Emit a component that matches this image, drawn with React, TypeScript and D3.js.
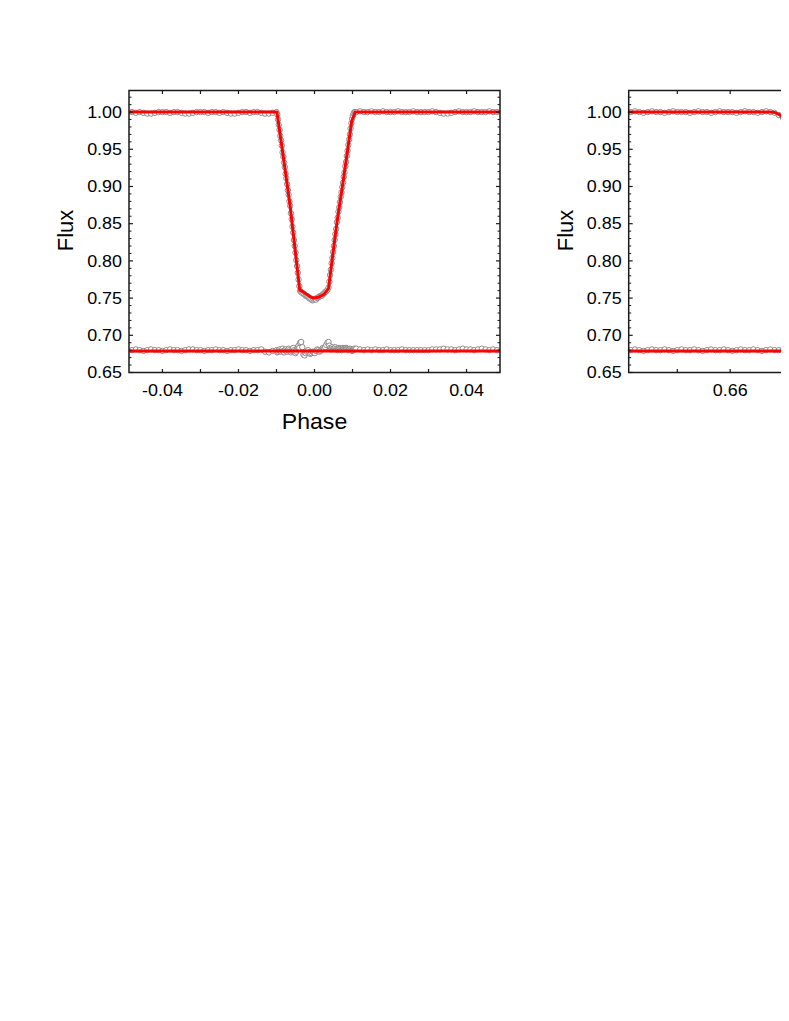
import React from "react";
import * as d3 from "d3";

// ---------- axis ticks ----------
const yTickValues = [0.65, 0.7, 0.75, 0.8, 0.85, 0.9, 0.95, 1.0];
const yTickLabels = ["0.65", "0.70", "0.75", "0.80", "0.85", "0.90", "0.95", "1.00"];
const yMinorTicks = [0.66,0.67,0.68,0.69,0.71,0.72,0.73,0.74,0.76,0.77,0.78,0.79,0.81,0.82,0.83,0.84,0.86,0.87,0.88,0.89,0.91,0.92,0.93,0.94,0.96,0.97,0.98,0.99,1.01,1.02];

const leftXTicks = [-0.04, -0.02, 0, 0.02, 0.04];
const leftXLabels = ["-0.04", "-0.02", "0.00", "0.02", "0.04"];
const leftXMinor = [-0.03, -0.01, 0.01, 0.03];

const rightXTicks = [0.66, 0.67, 0.68];
const rightXLabels = ["0.66", "0.67", "0.68"];
const rightXMinor = [0.655, 0.665, 0.675, 0.685];

// ---------- primary eclipse (left panel) ----------
const obsPhaseL = [
  -0.048,-0.047,-0.046,-0.045,-0.044,-0.043,-0.042,-0.041,-0.040,-0.039,-0.038,-0.037,-0.036,-0.035,-0.034,-0.033,-0.032,-0.031,-0.030,-0.029,-0.028,-0.027,-0.026,-0.025,-0.024,-0.023,-0.022,-0.021,-0.020,-0.019,-0.018,-0.017,-0.016,-0.015,-0.014,-0.013,-0.012,-0.011,-0.010,
  -0.0098,-0.0096,-0.0094,-0.0092,-0.0090,-0.0088,-0.0086,-0.0084,-0.0082,-0.0080,-0.0078,-0.0076,-0.0074,-0.0072,-0.0070,-0.0068,-0.0066,-0.0064,-0.0062,-0.0060,-0.0058,-0.0056,-0.0054,-0.0052,-0.0050,-0.0048,-0.0046,-0.0044,-0.0042,-0.0040,-0.0038,
  -0.0035,-0.0032,-0.0029,-0.0026,-0.0023,-0.0020,-0.0017,-0.0014,-0.0011,-0.0008,-0.0005,-0.0002,0.0001,0.0004,0.0007,0.0010,0.0013,0.0016,0.0019,0.0022,0.0025,0.0028,0.0031,0.0034,
  0.0037,0.0039,0.0041,0.0043,0.0045,0.0047,0.0049,0.0051,0.0053,0.0055,0.0057,0.0059,0.0061,0.0063,0.0065,0.0067,0.0069,0.0071,0.0073,0.0075,0.0077,0.0079,0.0081,0.0083,0.0085,0.0087,0.0089,0.0091,0.0093,0.0095,0.0097,0.0099,0.0101,0.0103,0.0105,0.0107,
  0.011,0.012,0.013,0.014,0.015,0.016,0.017,0.018,0.019,0.020,0.021,0.022,0.023,0.024,0.025,0.026,0.027,0.028,0.029,0.030,0.031,0.032,0.033,0.034,0.035,0.036,0.037,0.038,0.039,0.040,0.041,0.042,0.043,0.044,0.045,0.046,0.047,0.048,
];
const obsFluxL = [
  1.000,0.999,1.000,0.999,0.998,0.998,0.999,1.000,1.000,1.000,0.999,1.000,1.000,0.999,0.998,0.998,0.999,1.000,1.000,1.000,0.999,1.000,1.000,0.999,1.000,0.999,0.998,0.998,0.999,1.000,1.000,0.999,1.000,1.000,0.999,0.998,0.998,0.999,1.000,
  0.997,0.990,0.983,0.976,0.968,0.962,0.955,0.946,0.940,0.932,0.926,0.917,0.911,0.903,0.895,0.889,0.880,0.874,0.864,0.856,0.846,0.838,0.828,0.820,0.811,0.801,0.793,0.784,0.775,0.766,0.760,
  0.758,0.757,0.756,0.755,0.753,0.753,0.752,0.750,0.749,0.748,0.747,0.748,0.749,0.748,0.750,0.751,0.752,0.753,0.753,0.755,0.756,0.758,0.759,0.761,
  0.764,0.772,0.781,0.788,0.797,0.804,0.812,0.820,0.828,0.836,0.843,0.852,0.858,0.866,0.872,0.879,0.886,0.892,0.899,0.905,0.913,0.919,0.927,0.933,0.941,0.948,0.956,0.963,0.970,0.978,0.985,0.991,0.995,0.998,1.000,1.000,
  1.000,1.001,1.000,1.000,1.001,1.000,1.000,1.001,1.000,1.000,1.000,1.001,1.000,1.000,1.000,1.001,1.000,1.000,1.000,1.000,1.001,1.000,0.999,0.998,0.998,0.999,1.000,1.001,1.000,1.000,1.000,1.001,1.000,1.000,1.000,1.001,1.000,1.000,
];
const resFluxL = [
  0.680,0.681,0.680,0.679,0.680,0.681,0.680,0.680,0.679,0.680,0.681,0.680,0.680,0.679,0.680,0.681,0.681,0.680,0.680,0.679,0.680,0.680,0.681,0.680,0.680,0.679,0.680,0.680,0.681,0.680,0.680,0.679,0.680,0.680,0.681,0.678,0.677,0.679,0.680,
  0.677,0.678,0.680,0.681,0.679,0.678,0.680,0.682,0.679,0.677,0.680,0.681,0.679,0.678,0.680,0.682,0.680,0.678,0.677,0.679,0.681,0.683,0.680,0.678,0.676,0.678,0.681,0.684,0.686,0.683,0.690,
  0.691,0.684,0.674,0.673,0.676,0.678,0.680,0.677,0.675,0.676,0.678,0.677,0.676,0.679,0.681,0.680,0.678,0.679,0.681,0.683,0.682,0.684,0.687,0.690,
  0.691,0.686,0.683,0.681,0.683,0.684,0.682,0.681,0.683,0.684,0.682,0.681,0.680,0.682,0.683,0.682,0.681,0.680,0.682,0.683,0.682,0.681,0.682,0.683,0.682,0.681,0.680,0.681,0.682,0.681,0.680,0.679,0.680,0.681,0.682,0.681,
  0.682,0.681,0.680,0.681,0.680,0.681,0.680,0.680,0.681,0.680,0.680,0.680,0.681,0.680,0.680,0.680,0.680,0.680,0.680,0.680,0.681,0.681,0.681,0.682,0.681,0.681,0.680,0.681,0.682,0.681,0.681,0.680,0.681,0.682,0.681,0.680,0.681,0.680,
];
const modelPhaseL = [-0.0488,-0.0099,-0.0086,-0.0075,-0.0064,-0.0051,-0.0039,-0.0029,-0.0015,-0.0003,0.0010,0.0025,0.0037,0.0046,0.0060,0.0076,0.0088,0.0098,0.0107,0.0488];
const modelFluxL = [1.000,1.000,0.954,0.914,0.873,0.815,0.761,0.758,0.753,0.750,0.751,0.755,0.763,0.800,0.855,0.909,0.952,0.988,1.000,1.000];
const resModelPhaseL = [-0.0488, 0.0488];
const resModelFluxL = [0.679, 0.679];

// ---------- secondary eclipse (right panel, cut off by page) ----------
const obsPhaseR = [0.6506,0.6510,0.6514,0.6518,0.6522,0.6526,0.6530,0.6534,0.6538,0.6542,0.6546,0.6550,0.6554,0.6558,0.6562,0.6566,0.6570,0.6574,0.6578,0.6582,0.6586,0.6590,0.6594,0.6598,0.6602,0.6606,0.6610,0.6614,0.6618,0.6622,0.6626,0.6630,0.6634,0.6638,0.6642,0.6646,0.6650,0.6654,0.6658];
const obsFluxR = [1.000,1.001,1.000,0.999,1.000,1.001,1.000,1.000,0.999,1.000,1.001,1.000,1.000,1.000,0.999,1.000,1.001,1.000,1.000,0.999,1.000,1.001,1.000,1.000,1.000,0.999,1.000,1.001,1.000,1.000,0.999,1.000,1.001,1.000,0.999,0.996,0.992,0.987,0.981];
const resFluxR = [0.680,0.681,0.680,0.679,0.680,0.681,0.680,0.680,0.681,0.680,0.679,0.680,0.681,0.680,0.680,0.681,0.680,0.679,0.680,0.681,0.680,0.680,0.681,0.680,0.679,0.680,0.681,0.680,0.680,0.681,0.680,0.679,0.680,0.681,0.680,0.680,0.681,0.680,0.679];
const modelPhaseR = [0.6504,0.6638,0.6642,0.6646,0.6650,0.6654,0.6658,0.6662];
const modelFluxR = [1.000,1.000,0.9995,0.997,0.993,0.988,0.982,0.976];
const resModelPhaseR = [0.6504, 0.6855];
const resModelFluxR = [0.679, 0.679];

const FONT = "'Liberation Sans', Arial, Helvetica, sans-serif";

type PanelProps = {
  left: number;
  xDomain: [number, number];
  obsPhase: number[];
  obsFlux: number[];
  resFlux: number[];
  modelPhase: number[];
  modelFlux: number[];
  resModelPhase: number[];
  resModelFlux: number[];
  xTicks: number[];
  xLabels: string[];
  xMinor: number[];
};

function Panel(p: PanelProps) {
  const W = 371;
  const top = 82.5;
  const bottom = 364.5;
  const x = d3.scaleLinear().domain(p.xDomain).range([p.left, p.left + W]);
  const y = d3.scaleLinear().domain([0.65, 1.029]).range([bottom, top]);
  const line = d3
    .line<[number, number]>()
    .x((d) => x(d[0]))
    .y((d) => y(d[1]));
  const obs = p.obsPhase.map((ph, i) => [ph, p.obsFlux[i]] as [number, number]);
  const res = p.obsPhase.map((ph, i) => [ph, p.resFlux[i]] as [number, number]);
  const model = p.modelPhase.map((ph, i) => [ph, p.modelFlux[i]] as [number, number]);
  const resModel = p.resModelPhase.map((ph, i) => [ph, p.resModelFlux[i]] as [number, number]);
  const x0 = p.left;
  const x1 = p.left + W;
  const axisColor = "#1a1a1a";
  const xAll = [...p.xTicks, ...p.xMinor];
  return (
    <g>
      {/* data circles */}
      {obs.map((d, i) => (
        <circle key={"o" + i} cx={x(d[0])} cy={y(d[1])} r={2.7} fill="#fff" stroke="#808080" strokeWidth={0.9} />
      ))}
      {res.map((d, i) => (
        <circle key={"r" + i} cx={x(d[0])} cy={y(d[1])} r={2.7} fill="#fff" stroke="#808080" strokeWidth={0.9} />
      ))}
      <path d={line(model) || ""} fill="none" stroke="#ff0000" strokeWidth={3} strokeLinejoin="round" />
      <path d={line(resModel) || ""} fill="none" stroke="#ff0000" strokeWidth={3} />
      {/* frame */}
      <rect x={x0} y={top} width={W} height={bottom - top} fill="none" stroke={axisColor} strokeWidth={1.5} />
      {/* y ticks */}
      {yTickValues.map((v) => (
        <g key={"yt" + v}>
          <line x1={x0} x2={x0 + 4} y1={y(v)} y2={y(v)} stroke={axisColor} strokeWidth={1.2} />
          <line x1={x1} x2={x1 - 4} y1={y(v)} y2={y(v)} stroke={axisColor} strokeWidth={1.2} />
        </g>
      ))}
      {yMinorTicks.map((v) => (
        <g key={"ym" + v}>
          <line x1={x0} x2={x0 + 2.5} y1={y(v)} y2={y(v)} stroke={axisColor} strokeWidth={1} />
          <line x1={x1} x2={x1 - 2.5} y1={y(v)} y2={y(v)} stroke={axisColor} strokeWidth={1} />
        </g>
      ))}
      {/* x ticks */}
      {xAll
        .filter((v) => x(v) > x0 + 1 && x(v) < x1 - 1)
        .map((v) => (
          <g key={"xt" + v}>
            <line x1={x(v)} x2={x(v)} y1={bottom} y2={bottom - 3.5} stroke={axisColor} strokeWidth={1.2} />
            <line x1={x(v)} x2={x(v)} y1={top} y2={top + 3.5} stroke={axisColor} strokeWidth={1.2} />
          </g>
        ))}
      {/* tick labels */}
      {yTickValues.map((v, i) => (
        <text
          key={"yl" + v}
          transform={`translate(${x0 - 7},${y(v) + 5.7}) scale(1.12,1)`}
          textAnchor="end"
          fontFamily={FONT}
          fontSize={16}
          fill="#000"
        >
          {yTickLabels[i]}
        </text>
      ))}
      {p.xTicks.map((v, i) => (
        <text
          key={"xl" + v}
          transform={`translate(${x(v)},${bottom + 23}) scale(1.12,1)`}
          textAnchor="middle"
          fontFamily={FONT}
          fontSize={16}
          fill="#000"
        >
          {p.xLabels[i]}
        </text>
      ))}
      {/* axis titles */}
      <text
        transform={`translate(${(x0 + x1) / 2},${bottom + 56.5}) scale(1.05,1)`}
        textAnchor="middle"
        fontFamily={FONT}
        fontSize={22}
        fill="#000"
      >
        Phase
      </text>
      <text
        transform={`translate(${x0 - 56},${(top + bottom) / 2 - 1}) rotate(-90)`}
        textAnchor="middle"
        fontFamily={FONT}
        fontSize={22}
        fill="#000"
      >
        Flux
      </text>
    </g>
  );
}

export default function App() {
  return (
    <svg width={781} height={440} style={{ display: "block" }}>
      <rect x={0} y={0} width={781} height={440} fill="#fff" />
      <Panel
        left={121}
        xDomain={[-0.0488, 0.0488]}
        obsPhase={obsPhaseL}
        obsFlux={obsFluxL}
        resFlux={resFluxL}
        modelPhase={modelPhaseL}
        modelFlux={modelFluxL}
        resModelPhase={resModelPhaseL}
        resModelFlux={resModelFluxL}
        xTicks={leftXTicks}
        xLabels={leftXLabels}
        xMinor={leftXMinor}
      />
      <Panel
        left={620.7}
        xDomain={[0.6504, 0.6855]}
        obsPhase={obsPhaseR}
        obsFlux={obsFluxR}
        resFlux={resFluxR}
        modelPhase={modelPhaseR}
        modelFlux={modelFluxR}
        resModelPhase={resModelPhaseR}
        resModelFlux={resModelFluxR}
        xTicks={rightXTicks}
        xLabels={rightXLabels}
        xMinor={rightXMinor}
      />
    </svg>
  );
}
